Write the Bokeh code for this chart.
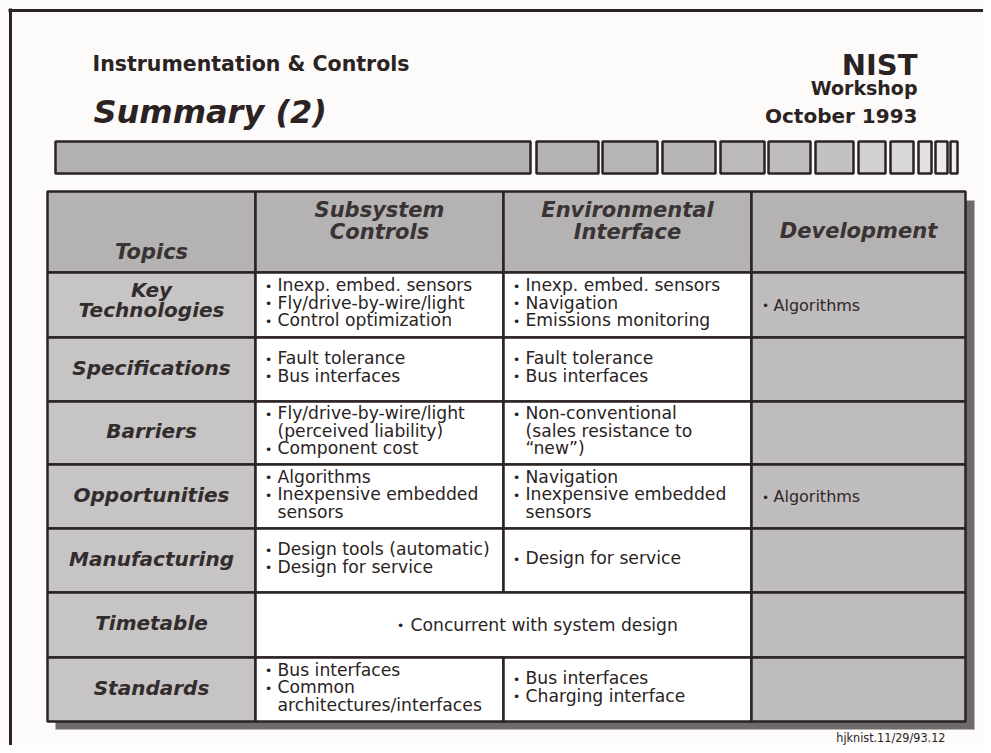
from bokeh.plotting import figure
from bokeh.models import Range1d, ColumnDataSource
from bokeh.core.properties import value
from bokeh.embed import file_html
from bokeh.resources import INLINE

# ---------------- data ----------------
title = "Instrumentation & Controls"
subtitle = "Summary (2)"
org_lines = ["NIST", "Workshop", "October 1993"]
footer = "hjknist.11/29/93.12"

header_labels = ["Topics", "Subsystem\nControls", "Environmental\nInterface", "Development"]
topics = ["Key\nTechnologies", "Specifications", "Barriers", "Opportunities",
          "Manufacturing", "Timetable", "Standards"]

subsystem_items = [
    ["Inexp. embed. sensors", "Fly/drive-by-wire/light", "Control optimization"],
    ["Fault tolerance", "Bus interfaces"],
    ["Fly/drive-by-wire/light\n(perceived liability)", "Component cost"],
    ["Algorithms", "Inexpensive embedded\nsensors"],
    ["Design tools (automatic)", "Design for service"],
    None,
    ["Bus interfaces", "Common\narchitectures/interfaces"],
]
environment_items = [
    ["Inexp. embed. sensors", "Navigation", "Emissions monitoring"],
    ["Fault tolerance", "Bus interfaces"],
    ["Non-conventional\n(sales resistance to\n\u201cnew\u201d)"],
    ["Navigation", "Inexpensive embedded\nsensors"],
    ["Design for service"],
    None,
    ["Bus interfaces", "Charging interface"],
]
timetable_item = "Concurrent with system design"
development_items = [["Algorithms"], [], [], ["Algorithms"], [], [], []]

# ---------------- layout / style ----------------
W, H = 983, 745
INK = "#2b2323"
BG = "#fcfbf9"
HEAD_FILL = "#b4b2b2"
LABEL_FILL = "#c6c4c4"
DEV_FILL = "#bebcbc"
SHADOW = "#6e6a6a"

col_edges = [47, 255, 503, 751, 965]
row_edges = [191, 272, 337, 401, 464, 528, 592, 657, 721]

p = figure(width=W, height=H, x_range=Range1d(0, W), y_range=Range1d(H, 0),
           output_backend="svg", toolbar_location=None, min_border=0,
           x_axis_location=None, y_axis_location=None)
p.grid.visible = False
p.outline_line_color = None
p.background_fill_color = BG
p.border_fill_color = BG

# frame
p.line([8, 990], [10, 10], line_color=INK, line_width=3)
p.line([10, 10], [8, 760], line_color=INK, line_width=3)

# titles
p.text(x=[92], y=[63], text=[title], text_font=value("DejaVu Sans"), text_font_style="bold",
       text_font_size="20.5px", text_color=INK, text_baseline="alphabetic")
p.text(x=[93], y=[111], text=[subtitle], text_font=value("DejaVu Sans"), text_font_style="bold italic",
       text_font_size="32px", text_color=INK, text_baseline="alphabetic")
org_y = [64, 87, 115]
org_sz = ["29px", "19px", "20px"]
for t, yy, sz in zip(org_lines, org_y, org_sz):
    p.text(x=[917], y=[yy], text=[t], text_font=value("DejaVu Sans"), text_font_style="bold",
           text_font_size=sz, text_color=INK, text_baseline="alphabetic", text_align="right")

# decorative bar
bar_l = [55, 536, 602, 662, 720, 768, 815, 858, 890, 918, 935, 950]
bar_r = [530, 598, 657, 715, 764, 810, 853, 885, 913, 931, 947, 957]
bar_c = ["#b2b0b0", "#b4b2b2", "#b6b4b4", "#b8b6b6", "#bbb9b9", "#bebcbc", "#c3c1c1",
         "#d2d0d0", "#d8d6d6", "#e2e0e0", "#ecebeb", "#f0efef"]
p.quad(left=bar_l, right=bar_r, top=141, bottom=173, fill_color=bar_c,
       line_color=INK, line_width=2.5)

# table shadow
p.quad(left=[55], right=[974], top=[200], bottom=[729], fill_color=SHADOW, line_color=None)

# cells
L, R, T, B, F = [], [], [], [], []
nrows = len(topics)
for c in range(4):
    L.append(col_edges[c]); R.append(col_edges[c + 1]); T.append(row_edges[0]); B.append(row_edges[1]); F.append(HEAD_FILL)
for r in range(nrows):
    top, bot = row_edges[r + 1], row_edges[r + 2]
    L.append(col_edges[0]); R.append(col_edges[1]); T.append(top); B.append(bot); F.append(LABEL_FILL)
    if subsystem_items[r] is None:
        L.append(col_edges[1]); R.append(col_edges[3]); T.append(top); B.append(bot); F.append("white")
    else:
        for c in (1, 2):
            L.append(col_edges[c]); R.append(col_edges[c + 1]); T.append(top); B.append(bot); F.append("white")
    L.append(col_edges[3]); R.append(col_edges[4]); T.append(top); B.append(bot); F.append(DEV_FILL)
p.quad(source=ColumnDataSource(dict(left=L, right=R, top=T, bottom=B, fill=F)),
       left="left", right="right", top="top", bottom="bottom", fill_color="fill",
       line_color=INK, line_width=2.5)

# header text
hx, hy, ht = [], [], []
header_pos = [[251], [209, 231], [209, 231], [230]]
for c, lab in enumerate(header_labels):
    cx = (col_edges[c] + col_edges[c + 1]) / 2
    for ln, yy in zip(lab.split("\n"), header_pos[c]):
        hx.append(cx); hy.append(yy); ht.append(ln)
p.text(x=hx, y=hy, text=ht, text_font=value("DejaVu Sans"), text_font_style="bold italic",
       text_font_size="21px", text_color="#3a3333", text_align="center", text_baseline="middle")

# topic labels
tx, ty, tt = [], [], []
for r, lab in enumerate(topics):
    cy = (row_edges[r + 1] + row_edges[r + 2]) / 2
    lines = lab.split("\n")
    n = len(lines)
    for i, ln in enumerate(lines):
        tx.append((col_edges[0] + col_edges[1]) / 2)
        ty.append(cy - 2 - 3 * (n - 1) + (i - (n - 1) / 2) * 20.5)
        tt.append(ln)
p.text(x=tx, y=ty, text=tt, text_font=value("DejaVu Sans"), text_font_style="bold italic",
       text_font_size="20px", text_color="#332c2c", text_align="center", text_baseline="middle")

# cell bullet texts
bx, by = [], []
cx_, cy_, ct_ = [], [], []


def place(items, r, left):
    cy = (row_edges[r + 1] + row_edges[r + 2]) / 2
    lines = []
    for it in items:
        for j, ln in enumerate(it.split("\n")):
            lines.append((ln, j == 0))
    n = len(lines)
    for i, (ln, first) in enumerate(lines):
        yy = cy - 2.5 + (i - (n - 1) / 2) * 17.5
        if first:
            bx.append(left + 13); by.append(yy)
        cx_.append(left + 22); cy_.append(yy); ct_.append(ln)


for r in range(nrows):
    if subsystem_items[r] is not None:
        place(subsystem_items[r], r, col_edges[1])
    if environment_items[r] is not None:
        place(environment_items[r], r, col_edges[2])

# timetable merged cell
tcy = (row_edges[6] + row_edges[7]) / 2 - 0.5
bx.append(400); by.append(tcy)
cx_.append(410); cy_.append(tcy); ct_.append(timetable_item)

p.text(x=cx_, y=cy_, text=ct_, text_font=value("DejaVu Sans"), text_font_size="17.2px",
       text_color=INK, text_baseline="middle")
p.text(x=bx, y=[v + 1 for v in by], text=["\u2022"] * len(bx), text_font=value("DejaVu Sans"),
       text_font_size="13px", text_color=INK, text_align="center", text_baseline="middle")

# development column
dx, dy, dt = [], [], []
for r, items in enumerate(development_items):
    cy = (row_edges[r + 1] + row_edges[r + 2]) / 2
    for i, it in enumerate(items):
        dx.append(col_edges[3] + 22); dy.append(cy); dt.append(it)
p.text(x=dx, y=dy, text=dt, text_font=value("DejaVu Sans"), text_font_size="16px",
       text_color="#2e2828", text_baseline="middle")
p.text(x=[col_edges[3] + 14] * len(dx), y=[v + 1 for v in dy], text=["\u2022"] * len(dx),
       text_font=value("DejaVu Sans"), text_font_size="12px", text_color="#2e2828",
       text_align="center", text_baseline="middle")

# footer
p.text(x=[945], y=[737], text=[footer], text_font=value("DejaVu Sans Condensed"),
       text_font_size="12.5px", text_color=INK, text_align="right", text_baseline="middle")

open("out.html", "w").write(file_html(p, INLINE))
